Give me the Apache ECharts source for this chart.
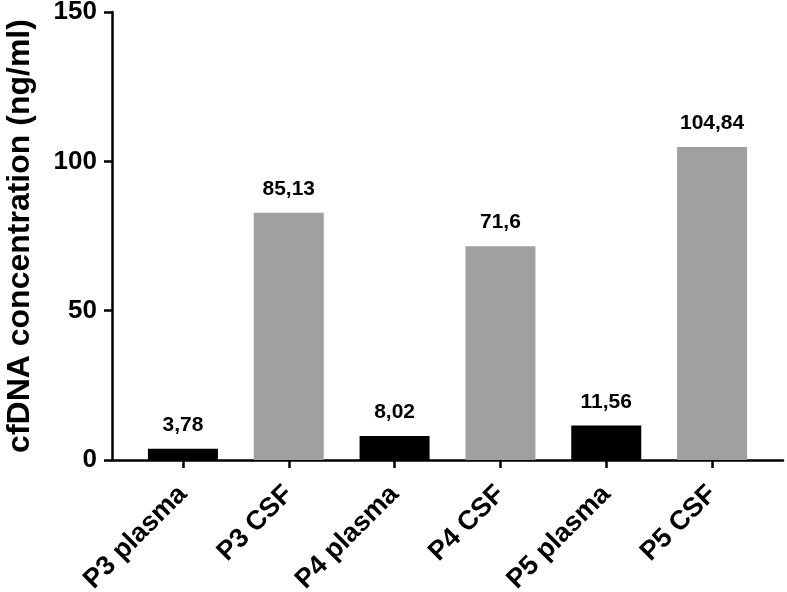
<!DOCTYPE html>
<html>
<head>
<meta charset="utf-8">
<script src="https://cdn.jsdelivr.net/npm/echarts@6/dist/echarts.min.js"></script>
<style>html,body{margin:0;padding:0;background:#fff;}#chart{width:787px;height:592px;}</style>
</head>
<body>
<div id="chart"></div>
<script>
var categories = ['P3 plasma', 'P3 CSF', 'P4 plasma', 'P4 CSF', 'P5 plasma', 'P5 CSF'];
var values = [3.78, 82.8, 8.02, 71.6, 11.56, 104.84];
var valueLabels = ['3,78', '85,13', '8,02', '71,6', '11,56', '104,84'];
var barColors = ['#000000', '#a0a0a0', '#000000', '#a0a0a0', '#000000', '#a0a0a0'];
var yTicks = [0, 50, 100, 150];

var FONT = 'Liberation Sans, Arial, sans-serif';
var chart = echarts.init(document.getElementById('chart'), null, {renderer: 'canvas'});
chart.setOption({
  animation: false,
  backgroundColor: '#ffffff',
  grid: [
    {left: 130, right: 22, top: 12, bottom: 132, containLabel: false, outerBoundsMode: 'none'},
    {left: 112, right: 4, top: 12, bottom: 132, containLabel: false, outerBoundsMode: 'none'}
  ],
  xAxis: [
    {
      type: 'category', gridIndex: 0, data: categories,
      axisLine: {show: false},
      axisTick: {show: true, alignWithLabel: true, length: 8, lineStyle: {color: '#000', width: 2.5}},
      axisLabel: {rotate: 45, margin: 30, color: '#000', fontWeight: 'bold', fontSize: 27, fontFamily: FONT, interval: 0}
    },
    {
      type: 'value', gridIndex: 1, min: 0, max: 1,
      axisLine: {show: true, lineStyle: {color: '#000', width: 2.5}},
      axisTick: {show: false}, axisLabel: {show: false}, splitLine: {show: false}
    }
  ],
  yAxis: [
    {
      type: 'value', gridIndex: 0, min: 0, max: 150, interval: 50, show: false, splitLine: {show: false}
    },
    {
      type: 'value', gridIndex: 1, min: yTicks[0], max: yTicks[yTicks.length - 1], interval: 50,
      name: 'cfDNA concentration (ng/ml)', nameLocation: 'middle', nameGap: 76,
      nameTextStyle: {color: '#000', fontWeight: 'bold', fontSize: 32, fontFamily: FONT},
      axisLine: {show: true, lineStyle: {color: '#000', width: 2.5}},
      axisTick: {show: true, length: 8, lineStyle: {color: '#000', width: 2.5}},
      axisLabel: {margin: 15, color: '#000', fontWeight: 'bold', fontSize: 26, fontFamily: FONT},
      splitLine: {show: false}
    }
  ],
  series: [{
    type: 'bar', xAxisIndex: 0, yAxisIndex: 0, barWidth: 70,
    data: values.map(function (v, i) { return {value: v, itemStyle: {color: barColors[i]}}; }),
    label: {
      show: true, position: 'top', distance: 13,
      formatter: function (p) { return valueLabels[p.dataIndex]; },
      color: '#000', fontWeight: 'bold', fontSize: 21, fontFamily: FONT
    }
  }]
});
</script>
</body>
</html>
